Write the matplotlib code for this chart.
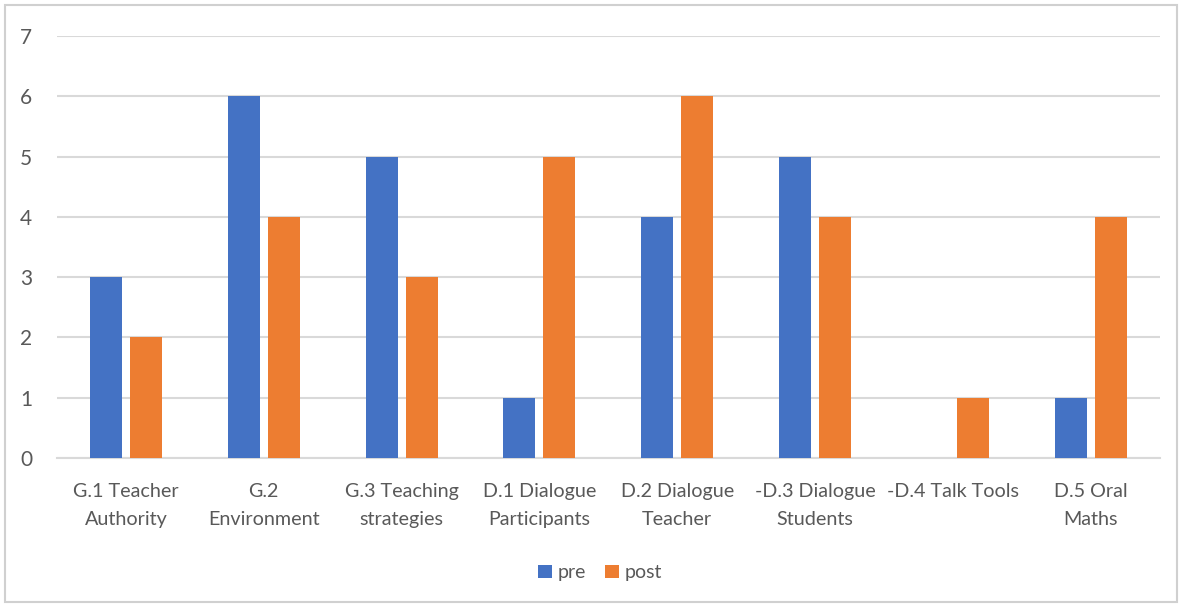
import matplotlib
matplotlib.use("Agg")
import matplotlib.pyplot as plt
import numpy as np
from matplotlib.patches import Rectangle

categories = [
    "G.1 Teacher\nAuthority",
    "G.2\nEnvironment",
    "G.3 Teaching\nstrategies",
    "D.1 Dialogue\nParticipants",
    "D.2 Dialogue\nTeacher",
    "-D.3 Dialogue\nStudents",
    "-D.4 Talk Tools",
    "D.5 Oral\nMaths",
]
pre = [3, 6, 5, 1, 4, 5, 0, 1]
post = [2, 4, 3, 5, 6, 4, 1, 4]
y_ticks = [0, 1, 2, 3, 4, 5, 6, 7]

BLUE = "#4472C4"
ORANGE = "#ED7D31"
TEXT = "#595959"
GRID = "#D9D9D9"

plt.rcParams["font.family"] = ["Lato", "DejaVu Sans"]

fig = plt.figure(figsize=(11.81, 6.06), dpi=100)
fig.patch.set_facecolor("white")
fig.add_artist(Rectangle((0.004, 0.006), 0.993, 0.985, transform=fig.transFigure,
                         fill=False, edgecolor="#D0D0D0", linewidth=1.5))

ax = fig.add_axes([0.0483, 0.2442, 0.9337, 0.6964])
x = np.arange(len(categories))
bw = 0.232
off = 0.145
ax.bar(x - off, pre, width=bw, color=BLUE, label="pre", zorder=3)
ax.bar(x + off, post, width=bw, color=ORANGE, label="post", zorder=3)

ax.set_xlim(-0.5, len(categories) - 0.5)
ax.set_ylim(0, 7)
ax.set_yticks(y_ticks)
ax.yaxis.grid(True, color=GRID, linewidth=1.5, zorder=0)
ax.set_axisbelow(True)
for s in ["top", "right", "left"]:
    ax.spines[s].set_visible(False)
ax.spines["bottom"].set_color(GRID)
ax.spines["bottom"].set_linewidth(1.5)
ax.tick_params(axis="both", length=0, colors=TEXT)
ax.tick_params(axis="y", pad=18, labelsize=15)
ax.tick_params(axis="x", pad=18, labelsize=14.2)
ax.set_xticks(x)
ax.set_xticklabels(categories, linespacing=1.8)

leg = fig.legend(loc="center", bbox_to_anchor=(0.508, 0.055), ncol=2, frameon=False,
                 fontsize=14, handlelength=0.7, handleheight=0.7, handletextpad=0.3,
                 columnspacing=1.0)
for t in leg.get_texts():
    t.set_color(TEXT)

fig.savefig("out.png", dpi=100, facecolor="white")
